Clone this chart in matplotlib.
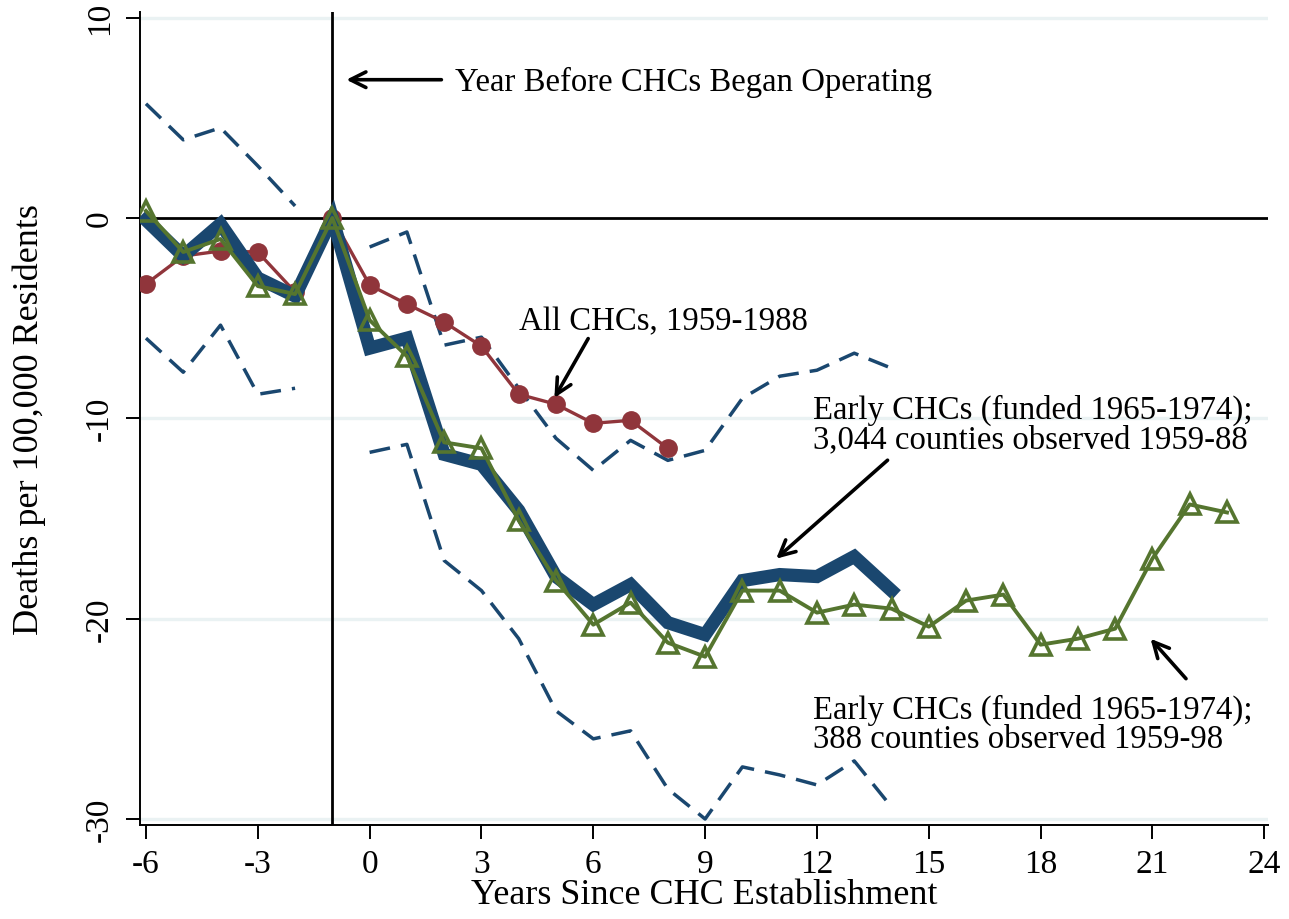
import matplotlib
matplotlib.use("Agg")
import matplotlib.pyplot as plt
import numpy as np

plt.rcParams['font.family'] = ['Liberation Serif', 'DejaVu Serif']

# ---- data ----
years_early = list(range(-6, 15))
early_3044 = [-0.1, -1.9, -0.3, -3.0, -3.9, 0.0, -6.5, -6.0, -11.8, -12.3, -14.6,
              -17.9, -19.3, -18.3, -20.2, -20.8, -18.1, -17.8, -17.9, -16.9, -18.6]

years_ci_pre = [-6, -5, -4, -3, -2]
ci_upper_pre = [5.7, 3.9, 4.5, 2.6, 0.6]
ci_lower_pre = [-6.0, -7.7, -5.35, -8.8, -8.5]

years_ci_post = list(range(0, 15))
ci_upper_post = [-1.45, -0.7, -6.35, -5.95, -8.5, -11.0, -12.6, -11.1, -12.1, -11.6,
                 -9.0, -7.9, -7.6, -6.75, -7.5]
ci_lower_post = [-11.7, -11.3, -17.1, -18.6, -21.0, -24.6, -26.0, -25.6, -28.5, -30.0,
                 -27.4, -27.8, -28.3, -27.1, -29.4]

years_all = list(range(-6, 9))
all_chcs = [-3.3, -1.9, -1.65, -1.7, -3.7, 0.0, -3.35, -4.3, -5.2, -6.4, -8.8,
            -9.3, -10.25, -10.1, -11.5]

years_388 = list(range(-6, 24))
early_388 = [0.35, -1.7, -1.05, -3.4, -3.8, 0.0, -5.1, -6.9, -11.2, -11.5, -15.1,
             -18.1, -20.3, -19.2, -21.2, -21.9, -18.6, -18.6, -19.7, -19.3, -19.5,
             -20.4, -19.1, -18.8, -21.3, -21.0, -20.5, -17.0, -14.3, -14.7]

x_ticks = [-6, -3, 0, 3, 6, 9, 12, 15, 18, 21, 24]
y_ticks = [10, 0, -10, -20, -30]

# ---- colours ----
navy = '#1a476f'
maroon = '#90353b'
forest = '#55752f'
grid_c = '#eaf2f3'

fig = plt.figure(figsize=(12.89, 9.2), dpi=100)
ax = fig.add_axes([140/1289, 1-826/920, (1268-140)/1289, (826-13)/920])

ax.set_xlim(-6.16, 24.1)
ax.set_ylim(-30.3, 10.28)

for yv in [10, -10, -20, -30]:
    ax.axhline(yv, color=grid_c, lw=2.4, zorder=0)

ax.axhline(0, color='black', lw=2.0, zorder=1)
ax.axvline(-1, color='black', lw=2.0, zorder=1)

dash = (6, 3.2)
ci_lw = 2.5
ax.plot(years_ci_pre, ci_upper_pre, color=navy, lw=ci_lw, dashes=dash, zorder=2)
ax.plot(years_ci_pre, ci_lower_pre, color=navy, lw=ci_lw, dashes=dash, zorder=2)
ax.plot(years_ci_post, ci_upper_post, color=navy, lw=ci_lw, dashes=dash, zorder=2)
ax.plot(years_ci_post, ci_lower_post, color=navy, lw=ci_lw, dashes=dash, zorder=2)

ax.plot(years_all, all_chcs, color=maroon, lw=2.4, marker='o', markersize=12.5,
        zorder=3)
ax.plot(years_early, early_3044, color=navy, lw=9.5, solid_joinstyle='miter', zorder=4)
ax.plot(years_388, early_388, color=forest, lw=2.8, marker='^', markersize=15,
        markerfacecolor='none', markeredgewidth=2.6, markeredgecolor=forest, zorder=5)

# annotations
fs = 23.6
arw = dict(arrowstyle='->', color='black', lw=2.6, mutation_scale=28)
ax.annotate('', xy=(-0.7, 6.9), xytext=(2.0, 6.9), arrowprops=arw)
ax.text(2.3, 6.8, 'Year Before CHCs Began Operating', fontsize=fs, va='center', ha='left')

ax.annotate('', xy=(4.92, -9.1), xytext=(5.9, -5.9), arrowprops=arw)
ax.text(4.0, -5.15, 'All CHCs, 1959-1988', fontsize=fs, va='center', ha='left')

ax.annotate('', xy=(10.85, -17.1), xytext=(13.95, -12.0), arrowprops=arw)
ax.text(11.9, -10.3, 'Early CHCs (funded 1965-1974);\n3,044 counties observed 1959-88',
        fontsize=fs, va='center', ha='left', linespacing=0.95)

ax.annotate('', xy=(20.9, -20.9), xytext=(21.95, -23.1), arrowprops=arw)
ax.text(11.9, -25.25, 'Early CHCs (funded 1965-1974);\n388 counties observed 1959-98',
        fontsize=fs, va='center', ha='left', linespacing=0.95)

# axes styling
for s in ['top', 'right']:
    ax.spines[s].set_visible(False)
ax.spines['left'].set_linewidth(1.4)
ax.spines['bottom'].set_linewidth(1.4)
ax.set_xticks(x_ticks)
ax.set_yticks(y_ticks)
ax.set_xticklabels([str(v) for v in x_ticks], fontsize=24)
ax.set_yticklabels([str(v) for v in y_ticks], fontsize=24, rotation=90, va='center')
ax.tick_params(axis='both', direction='out', length=10, width=1.4, colors='black')
ax.tick_params(axis='x', pad=7)
ax.tick_params(axis='y', pad=8)
ax.set_xlabel('Years Since CHC Establishment', fontsize=26)
ax.xaxis.set_label_coords(0.5, -(879 - 826) / 813)
ax.set_ylabel('Deaths per 100,000 Residents', fontsize=26)
ax.yaxis.set_label_coords(-(140 - 46) / 1128, 0.5)

fig.savefig('out.png', dpi=100)
